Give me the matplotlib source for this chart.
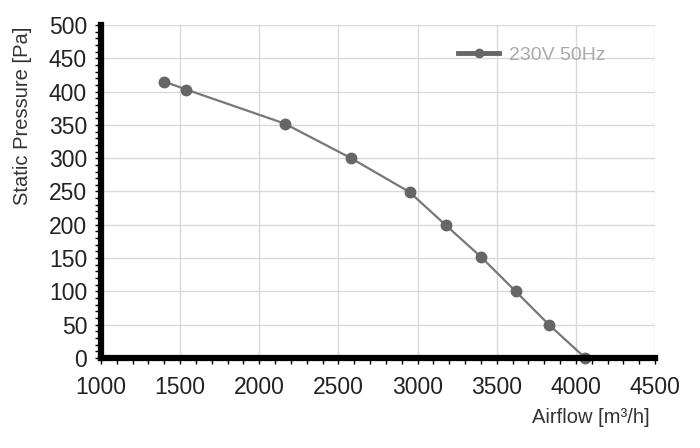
import matplotlib.pyplot as plt
from matplotlib.ticker import MultipleLocator

plt.rcParams['font.family'] = ['Liberation Sans', 'DejaVu Sans']

# curve
airflow = [1400, 1540, 2160, 2580, 2950, 3180, 3400, 3620, 3830, 4060]
pressure = [415, 403, 352, 300, 249, 199, 152, 100, 50, 0]
series_name = '230V 50Hz'

fig = plt.figure(figsize=(7, 4.48), dpi=100)
ax = fig.add_axes([0.1443, 0.2009, 0.7914, 0.7433])

ax.plot(airflow, pressure, '-o', color='#777777', lw=1.6,
        markersize=7.5, markerfacecolor='#666666', markeredgecolor='#666666',
        label=series_name, zorder=3, clip_on=False)

ax.set_xlim(1000, 4500)
ax.set_ylim(0, 500)
ax.xaxis.set_major_locator(MultipleLocator(500))
ax.xaxis.set_minor_locator(MultipleLocator(100))
ax.yaxis.set_major_locator(MultipleLocator(50))
ax.yaxis.set_minor_locator(MultipleLocator(10))

ax.grid(True, which='major', color='#d9d9d9', lw=1)
ax.set_axisbelow(True)

for s in ['top', 'right']:
    ax.spines[s].set_visible(False)
for s in ['left', 'bottom']:
    ax.spines[s].set_linewidth(4.5)
    ax.spines[s].set_color('black')
    ax.spines[s].set_zorder(4)

ax.tick_params(which='both', direction='out', length=4, width=1,
               color='black', labelsize=16.5, labelcolor='#222222')
ax.tick_params(axis='x', pad=9)
ax.tick_params(axis='y', pad=6)

ax.set_ylabel('Static Pressure [Pa]', fontsize=14.5, color='#333333', loc='top')
ax.yaxis.set_label_coords(-0.125, 0.995)
ax.set_xlabel('Airflow [m³/h]', fontsize=14.5, color='#333333', loc='right')
ax.xaxis.set_label_coords(0.99, -0.15)

leg = ax.legend(loc='upper right', bbox_to_anchor=(0.925, 0.96), frameon=False,
                fontsize=14, handlelength=2.1, handletextpad=0.5,
                borderaxespad=0, markerscale=0.8)
for t in leg.get_texts():
    t.set_color('#aaaaaa')
leg.get_lines()[0].set_linewidth(3.5)
leg.get_lines()[0].set_color('#666666')

fig.savefig('out.png', dpi=100, facecolor='white')
